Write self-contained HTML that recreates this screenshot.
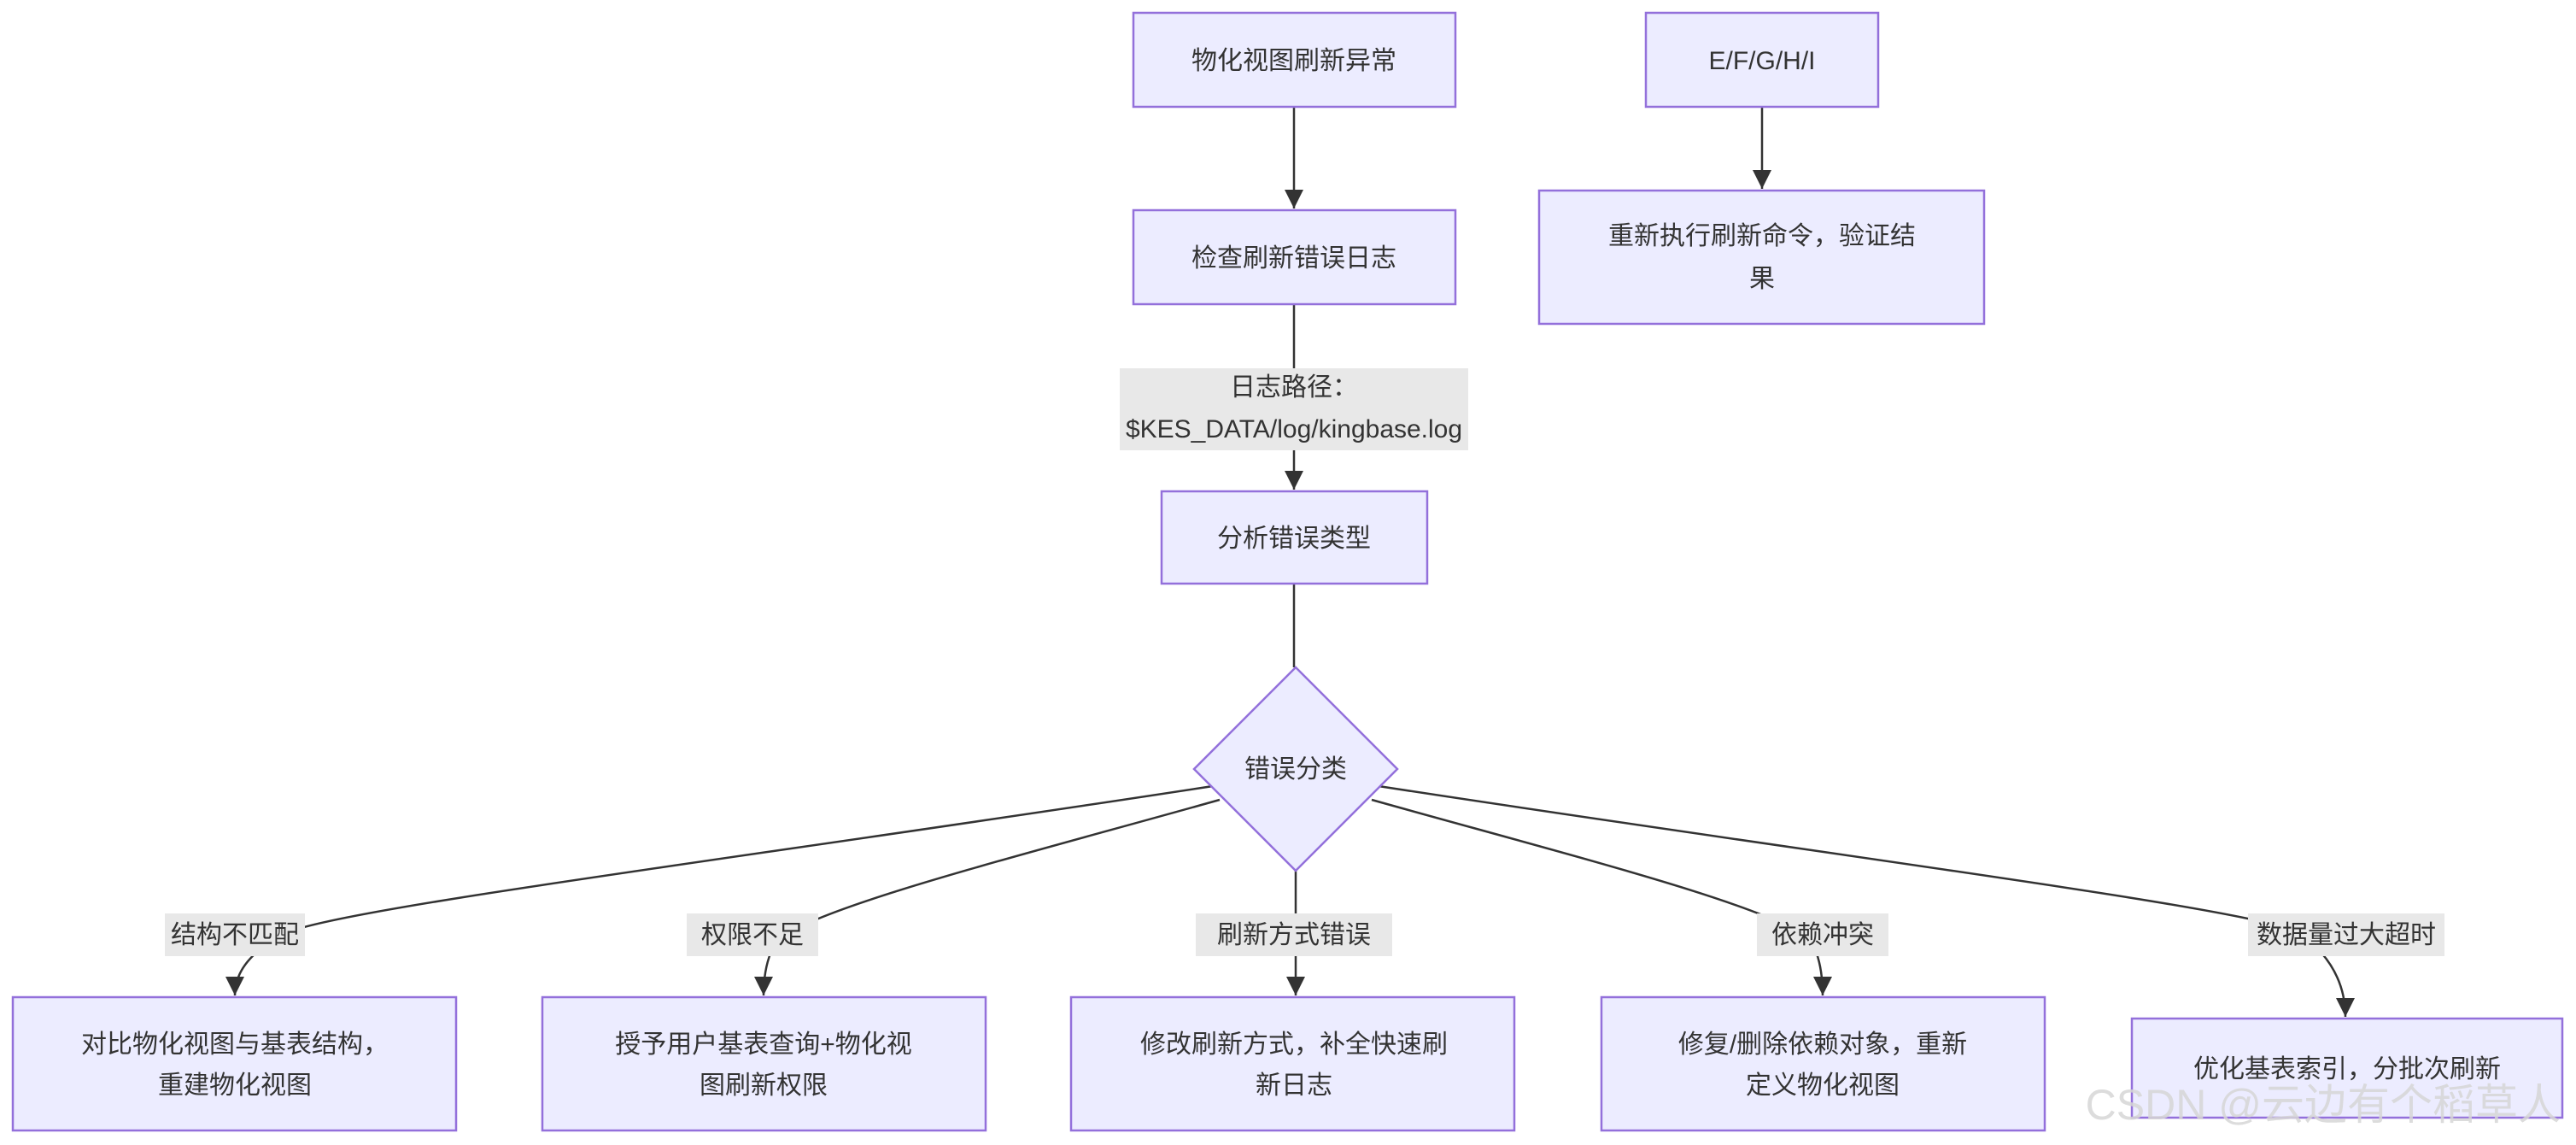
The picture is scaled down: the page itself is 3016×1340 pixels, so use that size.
<!DOCTYPE html>
<html><head><meta charset="utf-8"><style>
html,body{margin:0;padding:0;background:#fff;}
svg{display:block}
text{font-family:"Liberation Sans","Noto Sans CJK SC",sans-serif;font-size:30px;fill:#333;}
.b{fill:#ECECFF;stroke:#9370DB;stroke-width:2.5}
.e{fill:none;stroke:#333;stroke-width:2.5}
.l{fill:#e8e8e8}
</style></head><body>
<svg width="3016" height="1340" viewBox="0 0 3016 1340" xmlns="http://www.w3.org/2000/svg">
<defs><marker id="a" viewBox="0 0 10 10" refX="9" refY="5" markerWidth="9" markerHeight="9" markerUnits="userSpaceOnUse" orient="auto"><path d="M0,0L10,5L0,10z" fill="#333"/></marker>
<marker id="m" viewBox="0 0 10 10" refX="10" refY="5" markerWidth="22" markerHeight="22" markerUnits="userSpaceOnUse" orient="auto"><path d="M0,0L10,5L0,10z" fill="#333"/></marker></defs>
<path class="e" d="M1515,125V244" marker-end="url(#m)"/>
<path class="e" d="M2063,125V221" marker-end="url(#m)"/>
<path class="e" d="M1515,356V573" marker-end="url(#m)"/>
<path class="e" d="M1515,683V781"/>
<path class="e" d="M1420,920 C 900,1000 420,1060 340,1090 Q 275,1120 275,1165" marker-end="url(#m)"/>
<path class="e" d="M1428,936 C 1200,1000 960,1060 910,1100 Q 894,1125 894,1165" marker-end="url(#m)"/>
<path class="e" d="M1517,1019V1165" marker-end="url(#m)"/>
<path class="e" d="M1606,936 C 1834,1000 2074,1060 2120,1100 Q 2134,1125 2134,1165" marker-end="url(#m)"/>
<path class="e" d="M1614,920 C 2134,1000 2614,1060 2690,1090 Q 2746,1130 2746,1190" marker-end="url(#m)"/>
<rect class="b" x="1327" y="15" width="377" height="110"/>
<text x="1515" y="81" text-anchor="middle">物化视图刷新异常</text>
<rect class="b" x="1927" y="15" width="272" height="110"/>
<text x="2063" y="81" text-anchor="middle">E/F/G/H/I</text>
<rect class="b" x="1802" y="223" width="521" height="156"/>
<text x="2063" y="286" text-anchor="middle">重新执行刷新命令，验证结</text>
<text x="2063" y="336" text-anchor="middle">果</text>
<rect class="b" x="1327" y="246" width="377" height="110"/>
<text x="1515" y="312" text-anchor="middle">检查刷新错误日志</text>
<rect class="l" x="1311" y="431" width="408" height="96"/>
<text x="1515" y="463" text-anchor="middle">日志路径：</text>
<text x="1515" y="512" text-anchor="middle">$KES_DATA/log/kingbase.log</text>
<rect class="b" x="1360" y="575" width="311" height="108"/>
<text x="1515" y="640" text-anchor="middle">分析错误类型</text>
<polygon class="b" points="1517,781 1636,900 1517,1019 1398,900"/>
<text x="1517" y="910" text-anchor="middle">错误分类</text>
<rect class="l" x="193" y="1069" width="164" height="50"/><text x="275" y="1104" text-anchor="middle">结构不匹配</text>
<rect class="l" x="804" y="1069" width="154" height="50"/><text x="881" y="1104" text-anchor="middle">权限不足</text>
<rect class="l" x="1400" y="1069" width="230" height="50"/><text x="1515" y="1104" text-anchor="middle">刷新方式错误</text>
<rect class="l" x="2057" y="1069" width="154" height="50"/><text x="2134" y="1104" text-anchor="middle">依赖冲突</text>
<rect class="l" x="2632" y="1069" width="230" height="50"/><text x="2747" y="1104" text-anchor="middle">数据量过大超时</text>
<rect class="b" x="15" y="1167" width="519" height="156"/>
<text x="275" y="1232" text-anchor="middle">对比物化视图与基表结构，</text>
<text x="275" y="1280" text-anchor="middle">重建物化视图</text>
<rect class="b" x="635" y="1167" width="519" height="156"/>
<text x="894" y="1232" text-anchor="middle">授予用户基表查询+物化视</text>
<text x="894" y="1280" text-anchor="middle">图刷新权限</text>
<rect class="b" x="1254" y="1167" width="519" height="156"/>
<text x="1515" y="1232" text-anchor="middle">修改刷新方式，补全快速刷</text>
<text x="1515" y="1280" text-anchor="middle">新日志</text>
<rect class="b" x="1875" y="1167" width="519" height="156"/>
<text x="2134" y="1232" text-anchor="middle">修复/删除依赖对象，重新</text>
<text x="2134" y="1280" text-anchor="middle">定义物化视图</text>
<rect class="b" x="2496" y="1192" width="504" height="116"/>
<text x="2748" y="1261" text-anchor="middle">优化基表索引，分批次刷新</text>
<text x="2998" y="1310" text-anchor="end" style="font-size:50px;fill:#d6d6d6;opacity:0.85">CSDN @云边有个稻草人</text>
</svg>
</body></html>
